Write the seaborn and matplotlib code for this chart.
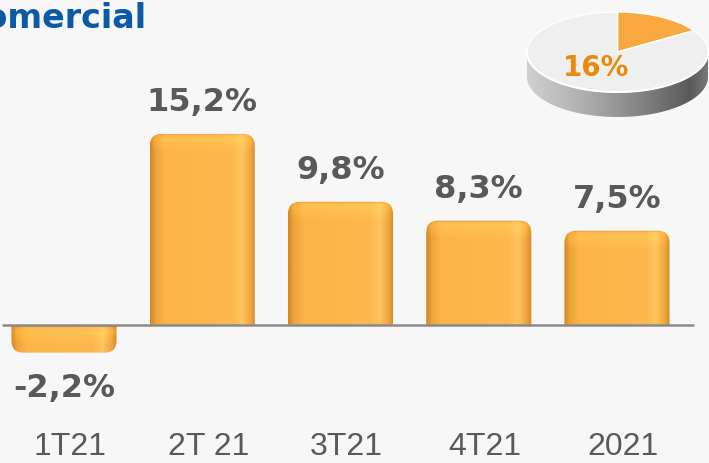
import numpy as np
import pandas as pd
import matplotlib
matplotlib.use("Agg")
import matplotlib.pyplot as plt
import seaborn as sns
from matplotlib.patches import FancyBboxPatch, Polygon, Arc
from matplotlib.colors import to_rgb

# --- data ---
periods = ["1T21", "2T 21", "3T21", "4T21", "2021"]
growth = [-2.2, 15.2, 9.8, 8.3, 7.5]
growth_labels = ["-2,2%", "15,2%", "9,8%", "8,3%", "7,5%"]
pie_share = [16, 84]
pie_label = "16%"
title = "Comercial"

W, H = 709, 463
BG = "#f7f7f7"
GREY_TXT = "#595959"

sns.set_theme(style="white")
plt.rcParams["font.family"] = ["DejaVu Sans"]

fig = plt.figure(figsize=(W / 100, H / 100), dpi=100)
fig.patch.set_facecolor(BG)
ax = fig.add_axes([0, 0, 1, 1])

df = pd.DataFrame({"periodo": periods, "valor": growth})
sns.barplot(data=df, x="periodo", y="valor", color="#fbb44a", saturation=1,
            width=0.76, ax=ax, zorder=2)

# pixel scale: bar spacing ~138 px, 1% ~12.6 px, baseline 325 px from top
px_x, px_y = 138.25, 12.57
ax.set_xlim(-64 / px_x, (W - 64) / px_x)
ax.set_ylim(-(H - 325) / px_y, 325 / px_y)
ax.set_axis_off()


def bar_rgb(w_px, h_px, up):
    # horizontal cylinder-like shading + rim at the rounded end
    u = np.linspace(0, 1, max(w_px, 2))
    stops = [0, 0.05, 0.14, 0.78, 0.87, 0.95, 1]
    cols = [to_rgb(c) for c in ["#d08624", "#eda33a", "#fbb44a", "#fcb84e",
                                "#fec45f", "#f1a83d", "#d48a26"]]
    row = np.stack([np.interp(u, stops, [c[i] for c in cols]) for i in range(3)], -1)
    d = np.arange(max(h_px, 2))  # distance from rounded end, pixels
    f = np.interp(d, [0, 2, 5, 12, 18], [0.88, 1.02, 1.07, 1.03, 1.0])
    if up:
        img = row[None, :, :] * f[:, None, None]
    else:
        img = row[None, :, :] * f[::-1][:, None, None]
    return np.clip(img, 0, 1)


r_px = 12
for p in list(ax.patches):
    x, w, h = p.get_x(), p.get_width(), p.get_height()
    p.remove()
    ext = r_px / px_y * 1.5
    if h >= 0:
        y0, y1 = -ext, h
    else:
        y0, y1 = h, ext
    shape = FancyBboxPatch((x, y0), w, y1 - y0,
                           boxstyle=f"round,pad=0,rounding_size={r_px / px_x}",
                           mutation_aspect=px_x / px_y,
                           facecolor="none", edgecolor="none", transform=ax.transData)
    ax.add_patch(shape)
    img = bar_rgb(int(w * px_x), int(abs(h) * px_y), h >= 0)
    im = ax.imshow(img, extent=(x, x + w, min(0, h), max(0, h)),
                   aspect="auto", origin="upper" if h >= 0 else "lower",
                   interpolation="bilinear", zorder=2)
    im.set_clip_path(shape)

ax.set_xlim(-64 / px_x, (W - 64) / px_x)
ax.set_ylim(-(H - 325) / px_y, 325 / px_y)

ax.axhline(0, xmin=3 / W, xmax=693 / W, color="#8a8a8a", lw=1.8, zorder=4)

# value labels
for i, (v, lab) in enumerate(zip(growth, growth_labels)):
    off = 31 if v >= 0 else -36
    ax.annotate(lab, (i, v), xytext=(0, off), textcoords="offset pixels",
                ha="center", va="center", fontsize=23, fontweight="bold",
                color=GREY_TXT)

# category labels at the bottom
for i, lab in enumerate(periods):
    ax.annotate(lab, (i, 1 - 447 / H), xycoords=ax.get_xaxis_transform(),
                xytext=(6, 0), textcoords="offset pixels",
                ha="center", va="center", fontsize=23, color=GREY_TXT,
                family="Liberation Sans")

# title (cut at the left edge like the slide)
fig.text(147 / W, 1 - 18 / H, title, ha="right", va="center", fontsize=24,
         fontweight="bold", color="#0a5aa5")

# --- 3D-looking pie in the corner ---
pax = fig.add_axes([527 / W, (H - 121) / H, 181 / W, 111 / H])
wedges, _ = pax.pie(pie_share, colors=["#f7a83e", "#efefef"], startangle=90,
                    counterclock=False, radius=1, center=(0, 0))
pax.axis("off")
for wd in wedges:
    wd.set_zorder(3)

t = 0.625
ang = np.linspace(np.pi, 2 * np.pi, 100)
side_pts = np.column_stack([np.cos(ang), np.sin(ang) - t])
top_ang = np.linspace(0, np.pi, 100)
side_pts = np.vstack([side_pts, np.column_stack([np.cos(top_ang), np.sin(top_ang)])])
side = Polygon(side_pts, closed=True, facecolor="none", edgecolor="none")
pax.add_patch(side)
u = np.linspace(0, 1, 200)
gcols = [to_rgb(c) for c in ["#d0d0d0", "#b0b0b0", "#888888", "#5a5a5a", "#787878"]]
gst = [0, 0.3, 0.6, 0.9, 1]
grow = np.stack([np.interp(u, gst, [c[i] for c in gcols]) for i in range(3)], -1)
sim = pax.imshow(np.repeat(grow[None], 10, axis=0), extent=(-1, 1, -1 - t, 1),
                 aspect="auto", zorder=1, interpolation="bilinear")
sim.set_clip_path(side)
pax.add_patch(Arc((0, 0), 2, 2, theta1=180, theta2=360, color="white", lw=1.5, zorder=4))
pax.set_aspect("auto")
pax.set_xlim(-1, 1)
pax.set_ylim(-1.725, 1.05)

fig.text(596 / W, 1 - 68 / H, pie_label, ha="center", va="center", fontsize=20,
         fontweight="bold", color="#e98a0c")

fig.savefig("out.png", dpi=100, facecolor=BG)
